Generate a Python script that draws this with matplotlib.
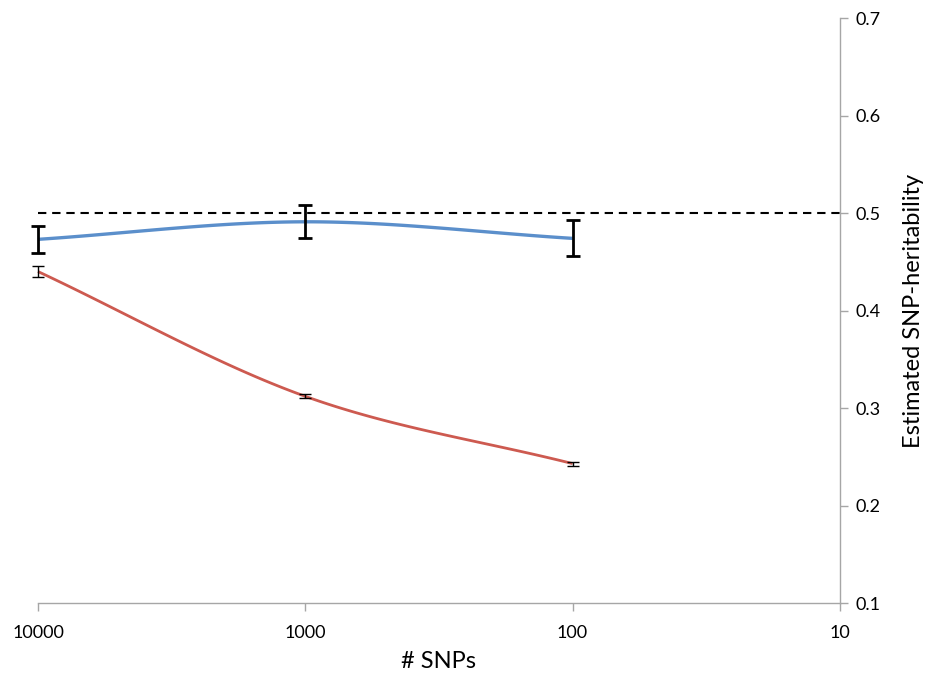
"""SNP-heritability estimate vs number of SNPs (reversed log x axis)."""
import numpy as np
import matplotlib
matplotlib.use("Agg")
import matplotlib.pyplot as plt

n_snps = [10000, 1000, 100]

blue_h2 = [0.473, 0.491, 0.474]
blue_err = [0.0135, 0.017, 0.0185]

red_h2 = [0.440, 0.312, 0.243]
red_err = [0.006, 0.002, 0.002]

true_h2 = 0.5
x_ticks = [10000, 1000, 100, 10]
x_ticklabels = ["10000", "1000", "100", "10"]
y_ticks = [0.1, 0.2, 0.3, 0.4, 0.5, 0.6, 0.7]

BLUE = "#5b8fcb"
RED = "#cd5a50"
GRAY = "#a6a6a6"


def smooth(xs, ys, n=60):
    """Catmull-Rom style smoothing in log-x, like a spreadsheet 'smoothed line'."""
    lx = np.log10(xs)
    ys = np.asarray(ys, float)
    px = np.concatenate([[2 * lx[0] - lx[1]], lx, [2 * lx[-1] - lx[-2]]])
    py = np.concatenate([[2 * ys[0] - ys[1]], ys, [2 * ys[-1] - ys[-2]]])
    out_x, out_y = [], []
    for i in range(1, len(px) - 2):
        t = np.linspace(0, 1, n)
        p0, p1, p2, p3 = px[i - 1:i + 3]
        q0, q1, q2, q3 = py[i - 1:i + 3]
        cx = 0.5 * ((2 * p1) + (-p0 + p2) * t + (2 * p0 - 5 * p1 + 4 * p2 - p3) * t**2
                    + (-p0 + 3 * p1 - 3 * p2 + p3) * t**3)
        cy = 0.5 * ((2 * q1) + (-q0 + q2) * t + (2 * q0 - 5 * q1 + 4 * q2 - q3) * t**2
                    + (-q0 + 3 * q1 - 3 * q2 + q3) * t**3)
        out_x.append(cx)
        out_y.append(cy)
    return 10 ** np.concatenate(out_x), np.concatenate(out_y)


def no_clip(container):
    for artist in container.get_children():
        artist.set_clip_on(False)


plt.rcParams["font.family"] = ["Lato", "DejaVu Sans"]

fig = plt.figure(figsize=(9.26, 6.8), dpi=100)
ax = fig.add_axes([0.041, 0.1132, 0.866, 0.8603])

ax.set_xscale("log")
ax.set_xlim(10000, 10)
ax.set_ylim(0.1, 0.7)

ax.plot([x_ticks[0], x_ticks[-1]], [true_h2, true_h2], color="black",
        linestyle=(0, (4, 2.8)), linewidth=1.5, zorder=2, clip_on=False)

sx, sy = smooth(n_snps, blue_h2)
ax.plot(sx, sy, color=BLUE, linewidth=2.4, zorder=3, solid_capstyle="butt", clip_on=False)
eb = ax.errorbar(n_snps, blue_h2, yerr=blue_err, fmt="none", ecolor="black",
                 elinewidth=2.0, capsize=5, capthick=2.0, zorder=4)
no_clip(eb)

sx, sy = smooth(n_snps, red_h2)
ax.plot(sx, sy, color=RED, linewidth=2.0, zorder=3, solid_capstyle="butt", clip_on=False)
eb = ax.errorbar(n_snps, red_h2, yerr=red_err, fmt="none", ecolor="black",
                 elinewidth=1.0, capsize=4, capthick=1.0, zorder=4)
no_clip(eb)

for side in ["top", "left"]:
    ax.spines[side].set_visible(False)
for side in ["bottom", "right"]:
    ax.spines[side].set_color(GRAY)
    ax.spines[side].set_linewidth(1.0)

ax.yaxis.tick_right()
ax.yaxis.set_label_position("right")
ax.set_xticks(x_ticks)
ax.set_xticklabels(x_ticklabels)
ax.minorticks_off()
ax.set_yticks(y_ticks)
ax.set_yticklabels([f"{v:.1f}" for v in y_ticks])
ax.tick_params(axis="both", colors=GRAY, labelcolor="black", labelsize=13,
               length=6, width=1.0, direction="out")
ax.tick_params(axis="x", pad=10)
ax.tick_params(axis="y", pad=5)

ax.set_xlabel("# SNPs", fontsize=17, labelpad=7)
ax.set_ylabel("Estimated SNP-heritability", fontsize=17, labelpad=16)

fig.savefig("out.png", dpi=100)
